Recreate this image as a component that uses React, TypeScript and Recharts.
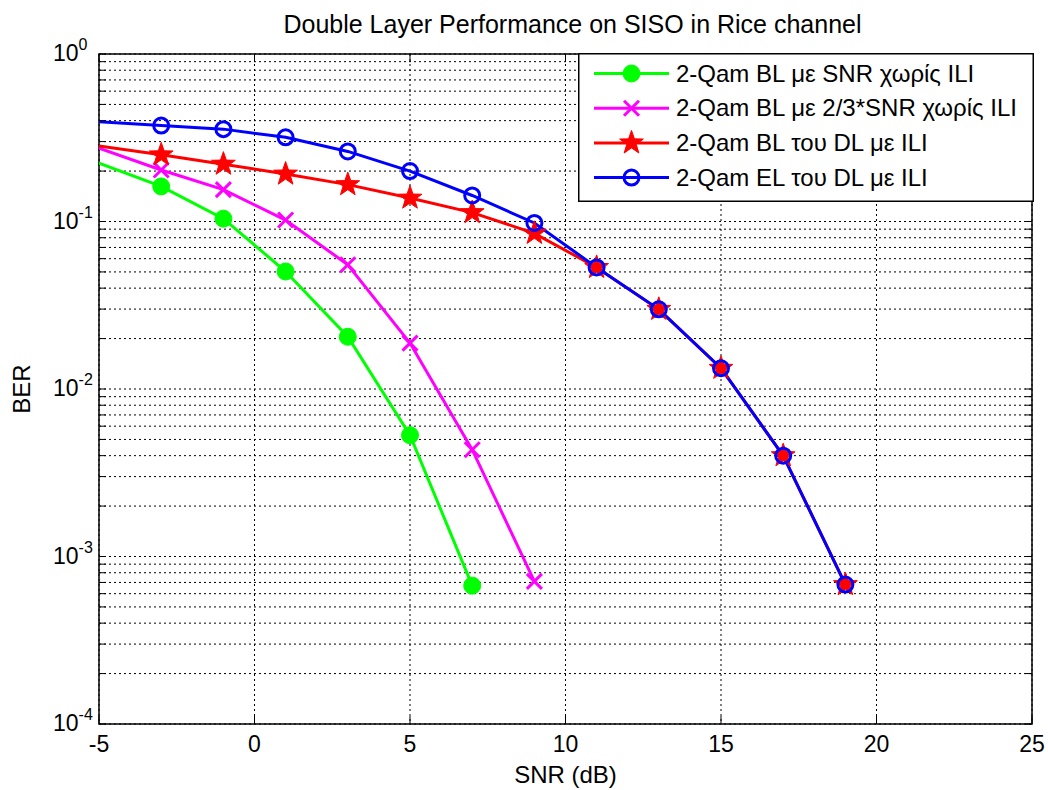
import { LineChart, Line, XAxis, YAxis, CartesianGrid, Legend, ReferenceArea, Label } from "recharts";

// SNR points (dB) for each curve
const snrBL = [-5, -3, -1, 1, 3, 5, 7];
const snrBL23 = [-5, -3, -1, 1, 3, 5, 7, 9];
const snrDL = [-5, -3, -1, 1, 3, 5, 7, 9, 11, 13, 15, 17, 19];

// BER values
const berBL = [0.223, 0.162, 0.104, 0.0503, 0.0205, 0.0053, 0.00067];
const berBL23 = [0.274, 0.203, 0.155, 0.102, 0.0552, 0.0188, 0.00434, 0.00071];
const berBLdl = [0.282, 0.25, 0.22, 0.192, 0.166, 0.138, 0.113, 0.085, 0.0532, 0.0299, 0.0133, 0.004, 0.00068];
const berELdl = [0.394, 0.374, 0.356, 0.318, 0.262, 0.2, 0.143, 0.098, 0.0532, 0.0299, 0.0133, 0.004, 0.00068];

const xTicks = [-5, 0, 5, 10, 15, 20, 25];
const decades = [-4, -3, -2, -1];
const mantissas = [1, 2, 3, 4, 5, 6, 7, 8, 9];

// log grid: every m*10^k plus the top decade
const yTicks: number[] = [];
decades.forEach((d) => mantissas.forEach((m) => yTicks.push(m * Math.pow(10, d))));
yTicks.push(1);

const W = 1048;
const H = 790;
const PW = 933;
const PH = 670;
const FONT = "'Liberation Sans', Arial, Helvetica, sans-serif";

type Marker = "dot" | "cross" | "star" | "ring";

const series = [
  { name: "2-Qam BL με SNR χωρίς ILI", color: "#00ff00", marker: "dot" as Marker, x: snrBL, y: berBL },
  { name: "2-Qam BL με 2/3*SNR χωρίς ILI", color: "#ff00ff", marker: "cross" as Marker, x: snrBL23, y: berBL23 },
  { name: "2-Qam BL του DL με ILI", color: "#ff0000", marker: "star" as Marker, x: snrDL, y: berBLdl },
  { name: "2-Qam EL του DL με ILI", color: "#0000ff", marker: "ring" as Marker, x: snrDL, y: berELdl },
];

const toRows = (xs: number[], ys: number[]) => xs.map((x, i) => ({ x, y: ys[i] }));

const starPoints = (cx: number, cy: number, ro: number, ri: number) => {
  const pts: string[] = [];
  for (let i = 0; i < 10; i++) {
    const a = ((-90 + i * 36) * Math.PI) / 180;
    const r = i % 2 === 0 ? ro : ri;
    pts.push(`${cx + r * Math.cos(a)},${cy + r * Math.sin(a)}`);
  }
  return pts.join(" ");
};

const drawMarker = (marker: Marker, color: string, cx: number, cy: number, key?: string | number) => {
  switch (marker) {
    case "dot":
      return <circle key={key} cx={cx} cy={cy} r={8.5} fill={color} stroke={color} />;
    case "cross":
      return (
        <g key={key} stroke={color} strokeWidth={3}>
          <line x1={cx - 7.5} y1={cy - 7.5} x2={cx + 7.5} y2={cy + 7.5} />
          <line x1={cx - 7.5} y1={cy + 7.5} x2={cx + 7.5} y2={cy - 7.5} />
        </g>
      );
    case "star":
      return <polygon key={key} points={starPoints(cx, cy, 12.5, 5)} fill={color} stroke={color} strokeWidth={1} />;
    default:
      return <circle key={key} cx={cx} cy={cy} r={7.5} fill="none" stroke={color} strokeWidth={3} />;
  }
};

// the -5 dB sample only anchors the line, it carries no marker
const makeDot = (marker: Marker, color: string) => (props: any) => {
  const { cx, cy, index, payload } = props;
  if (cx == null || cy == null || payload.x <= -5) return <g key={`n${index}`} />;
  return drawMarker(marker, color, cx, cy, `m${index}`);
};

const isDecade = (v: number) => Math.abs(Math.log10(v) - Math.round(Math.log10(v))) < 1e-6;

const YTick = (props: any) => {
  const { x, y, payload } = props;
  const v = payload.value;
  const e = Math.round(Math.log10(v));
  return (
    <g>
      <line x1={x} x2={x + 7} y1={y} y2={y} stroke="#000" />
      <line x1={x + PW - 7} x2={x + PW} y1={y} y2={y} stroke="#000" />
      {isDecade(v) && (
        <text x={x - 46} y={y + 7} fontSize={23} fontFamily={FONT} fill="#000">
          10
          <tspan fontSize={16} dy={-11}>
            {e}
          </tspan>
        </text>
      )}
    </g>
  );
};

const XTick = (props: any) => {
  const { x, y, payload } = props;
  return (
    <g>
      <line x1={x} x2={x} y1={y} y2={y - 8} stroke="#000" />
      <line x1={x} x2={x} y1={y - PH} y2={y - PH + 8} stroke="#000" />
      <text x={x} y={y + 28} textAnchor="middle" fontSize={23} fontFamily={FONT} fill="#000">
        {payload.value}
      </text>
    </g>
  );
};

const LegendBox = () => (
  <svg width={456} height={149} style={{ display: "block" }}>
    <rect x={0.75} y={0.75} width={454.5} height={147.5} fill="#fff" stroke="#000" strokeWidth={1.5} />
    {series.map((s, i) => {
      const cy = 20.5 + i * 34.7;
      return (
        <g key={s.name}>
          <line x1={16} x2={91} y1={cy} y2={cy} stroke={s.color} strokeWidth={3} />
          {drawMarker(s.marker, s.color, 53.5, cy)}
          <text x={98} y={cy + 8} fontSize={24} fontFamily={FONT} fill="#000">
            {s.name}
          </text>
        </g>
      );
    })}
  </svg>
);

export default function App() {
  return (
    <div style={{ position: "absolute", left: 0, top: 0, width: W, height: H, background: "#fff" }}>
      <div
        style={{
          position: "absolute",
          left: 106,
          top: 10,
          width: PW,
          textAlign: "center",
          fontFamily: FONT,
          fontSize: 25,
          lineHeight: "28px",
          color: "#000",
        }}
      >
        Double Layer Performance on SISO in Rice channel
      </div>
      <LineChart width={W} height={H} margin={{ top: 54, right: 16, bottom: 6, left: 9 }}>
        <CartesianGrid stroke="#000" strokeDasharray="2 3" />
        <XAxis
          type="number"
          dataKey="x"
          domain={[-5, 25]}
          ticks={xTicks}
          interval={0}
          allowDataOverflow
          height={60}
          tickSize={0}
          tickMargin={0}
          axisLine={false}
          tick={<XTick />}
        >
          <Label
            content={() => (
              <text x={565.5} y={783} textAnchor="middle" fontSize={24} fontFamily={FONT} fill="#000">
                SNR (dB)
              </text>
            )}
          />
        </XAxis>
        <YAxis
          type="number"
          scale="log"
          domain={[1e-4, 1]}
          ticks={yTicks}
          interval={0}
          allowDataOverflow
          width={90}
          tickSize={0}
          tickMargin={0}
          axisLine={false}
          tick={<YTick />}
        >
          <Label
            content={() => (
              <text
                x={30}
                y={389}
                transform="rotate(-90 30 389)"
                textAnchor="middle"
                fontSize={24}
                fontFamily={FONT}
                fill="#000"
              >
                BER
              </text>
            )}
          />
        </YAxis>
        {series.map((s) => (
          <Line
            key={s.name}
            data={toRows(s.x, s.y)}
            dataKey="y"
            name={s.name}
            stroke={s.color}
            strokeWidth={3}
            dot={makeDot(s.marker, s.color)}
            activeDot={false}
            isAnimationActive={false}
          />
        ))}
        <ReferenceArea x1={-5} x2={25} y1={1e-4} y2={1} fill="none" stroke="#000" strokeWidth={1.5} ifOverflow="visible" />
        <Legend
          layout="vertical"
          align="center"
          verticalAlign="middle"
          wrapperStyle={{ top: 53, left: 578, width: 456, height: 149 }}
          content={() => <LegendBox />}
        />
      </LineChart>
    </div>
  );
}
